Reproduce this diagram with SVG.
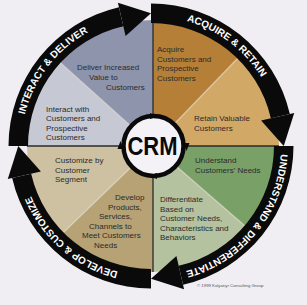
<svg xmlns="http://www.w3.org/2000/svg" width="307" height="305" viewBox="0 0 307 305">
<style>
.lbl{font-family:"Liberation Sans",Arial,sans-serif;font-size:8px;fill:#2b2b2b}
.rt{font-family:"Liberation Sans",Arial,sans-serif;font-weight:bold;font-size:10px;fill:#ffffff}
.ring{fill:#0a0a0a}
.div{stroke:#e8e4d8;stroke-opacity:0.45;stroke-width:1.5;fill:none}
.axis{stroke:#2a2a2a;stroke-width:1.3;fill:none}
</style>
<defs>
<path id="pInteract" d="M 21.08 150.54 A 130 130 0 0 1 121.76 19.33"/>
<path id="pAcquire" d="M 146.46 16.08 A 130 130 0 0 1 277.14 114.55"/>
<path id="pUnderstand" d="M 280.98 148.27 A 130 130 0 0 1 180.24 272.67"/>
<path id="pDevelop" d="M 139.67 275.5 A 130 130 0 0 1 24.33 175.24"/>
</defs>
<rect width="307" height="305" fill="#f0eef2"/>

<g id="interact">
<path d="M153 146 L27 146 A126 126 0 0 1 59.36 61.69 Z" fill="#c6c8d3"/>
<text class="lbl" x="46" y="111.5">Interact with</text>
<text class="lbl" x="46" y="121">Customers and</text>
<text class="lbl" x="46" y="130.5">Prospective</text>
<text class="lbl" x="46" y="140">Customers</text>
</g>
<g id="deliver">
<path d="M153 146 L59.36 61.69 A126 126 0 0 1 153 20 Z" fill="#8e94ab"/>
<text class="lbl" x="77" y="70">Deliver Increased</text>
<text class="lbl" x="89" y="80">Value to</text>
<text class="lbl" x="106" y="90">Customers</text>
</g>
<g id="acquire">
<path d="M153 146 L153 20 A126 126 0 0 1 240.53 55.36 Z" fill="#b57f38"/>
<text class="lbl" x="157" y="52">Acquire</text>
<text class="lbl" x="157" y="61.5">Customers and</text>
<text class="lbl" x="157" y="71">Prospective</text>
<text class="lbl" x="157" y="80.5">Customers</text>
</g>
<g id="retain">
<path d="M153 146 L240.53 55.36 A126 126 0 0 1 279 146 Z" fill="#d2a866"/>
<text class="lbl" x="194" y="121">Retain Valuable</text>
<text class="lbl" x="194" y="130.5">Customers</text>
</g>
<g id="understand">
<path d="M153 146 L279 146 A126 126 0 0 1 248.09 228.66 Z" fill="#79a067"/>
<text class="lbl" x="195" y="163">Understand</text>
<text class="lbl" x="195" y="172.5">Customers' Needs</text>
</g>
<g id="differentiate">
<path d="M153 146 L248.09 228.66 A126 126 0 0 1 153 272 Z" fill="#b4c29f"/>
<text class="lbl" x="160" y="202">Differentiate</text>
<text class="lbl" x="160" y="211.5">Based on</text>
<text class="lbl" x="160" y="221">Customer Needs,</text>
<text class="lbl" x="160" y="230.5">Characteristics and</text>
<text class="lbl" x="160" y="240">Behaviors</text>
</g>
<g id="develop">
<path d="M153 146 L153 272 A126 126 0 0 1 62.36 233.53 Z" fill="#b6a274"/>
<text class="lbl" x="115" y="200">Develop</text>
<text class="lbl" x="108" y="209.5">Products,</text>
<text class="lbl" x="99" y="219">Services,</text>
<text class="lbl" x="89" y="228.5">Channels to</text>
<text class="lbl" x="82" y="238">Meet Customers</text>
<text class="lbl" x="94" y="247.5">Needs</text>
</g>
<g id="customize">
<path d="M153 146 L62.36 233.53 A126 126 0 0 1 27 146 Z" fill="#cdc1a1"/>
<text class="lbl" x="55" y="163">Customize by</text>
<text class="lbl" x="55" y="172.5">Customer</text>
<text class="lbl" x="55" y="182">Segment</text>
</g>

<g id="dividers">
<line class="div" x1="153" y1="146" x2="59.36" y2="61.69"/>
<line class="div" x1="153" y1="146" x2="240.53" y2="55.36"/>
<line class="div" x1="153" y1="146" x2="248.09" y2="228.66"/>
<line class="div" x1="153" y1="146" x2="62.36" y2="233.53"/>
<line class="axis" x1="27" y1="146" x2="279" y2="146"/>
<line class="axis" x1="153" y1="20" x2="153" y2="272"/>
</g>

<g id="connectors">
<g id="arrow-interact">
<path class="ring" d="M 8.5 146 A 142.5 142.5 0 0 1 118.94 7.15 L 123.33 26.15 A 123 123 0 0 0 28 146 Z"/>
<polygon class="ring" points="117.93,2.77 151,13.25 125.58,35.9"/>
<text class="rt"><textPath href="#pInteract" startOffset="50%" text-anchor="middle">INTERACT &amp; DELIVER</textPath></text>
</g>
<g id="arrow-acquire">
<path class="ring" d="M 151 3.5 A 142.5 142.5 0 0 1 289.85 113.94 L 270.85 118.33 A 123 123 0 0 0 151 23 Z"/>
<polygon class="ring" points="294.23,112.93 283.75,146 261.1,120.58"/>
<text class="rt"><textPath href="#pAcquire" startOffset="50%" text-anchor="middle">ACQUIRE &amp; RETAIN</textPath></text>
</g>
<g id="arrow-understand">
<path class="ring" d="M 293.5 146 A 142.5 142.5 0 0 1 183.06 284.85 L 178.67 265.85 A 123 123 0 0 0 274 146 Z"/>
<polygon class="ring" points="184.07,289.23 151,278.75 176.42,256.1"/>
<text class="rt"><textPath href="#pUnderstand" startOffset="50%" text-anchor="middle">UNDERSTAND &amp; DIFFERENTIATE</textPath></text>
</g>
<g id="arrow-develop">
<path class="ring" d="M 151 288.5 A 142.5 142.5 0 0 1 12.15 178.06 L 31.15 173.67 A 123 123 0 0 0 151 269 Z"/>
<polygon class="ring" points="7.77,179.07 18.25,146 40.9,171.42"/>
<text class="rt"><textPath href="#pDevelop" startOffset="50%" text-anchor="middle">DEVELOP &amp; CUSTOMIZE</textPath></text>
</g>
</g>

<g id="crm">
<circle cx="153.5" cy="146" r="30" fill="#f4f2f6" stroke="#0a0a0a" stroke-width="4.5"/>
<polygon points="150,113 158,116 150,119" fill="#0a0a0a"/>
<polygon points="183.5,143 186.5,151 189.5,143" fill="#0a0a0a"/>
<polygon points="157,173 149,176 157,179" fill="#0a0a0a"/>
<polygon points="117.5,149 120.5,141 123.5,149" fill="#0a0a0a"/>
<text x="152.5" y="155" text-anchor="middle" font-family="Liberation Sans, Arial, sans-serif" font-weight="bold" font-size="25" textLength="50" lengthAdjust="spacingAndGlyphs" fill="#0a0a0a">CRM</text>
</g>

<text x="197" y="287" font-family="Liberation Sans, Arial, sans-serif" font-size="4.3" fill="#555">© 1999 Kalyanyr Consulting Group</text>
</svg>
